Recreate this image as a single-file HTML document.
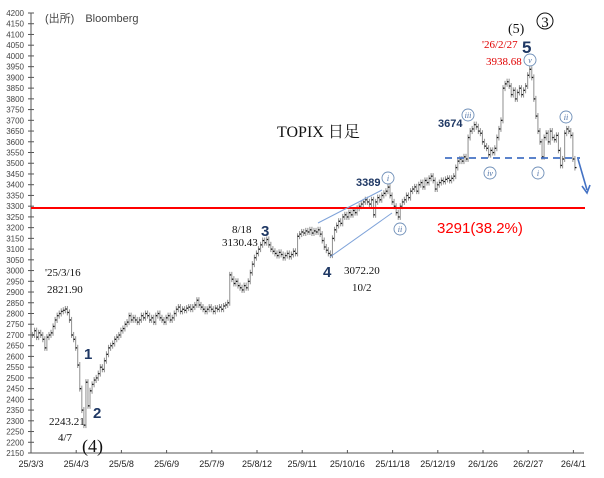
<!DOCTYPE html>
<html><head><meta charset="utf-8">
<style>
html,body{margin:0;padding:0;background:#fff;}
svg{display:block;}
.yl{font:8px "Liberation Sans",sans-serif;fill:#444;}
.xl{font:9px "Liberation Sans",sans-serif;fill:#222;}
.sr{font-family:"Liberation Serif","Noto Serif CJK SC",serif;fill:#111;}
.wv{font:bold 15px "Liberation Sans",sans-serif;fill:#1f3864;}
.cl{fill:none;stroke:#6f8fb8;stroke-width:0.9;}
.ct{font:italic 8px "Liberation Serif",serif;fill:#4a6fa5;}
</style></head>
<body>
<svg id="chart" width="604" height="478" xmlns="http://www.w3.org/2000/svg">
<g id="axes"></g>
<g id="bars"></g>
<g id="ann">
<text x="45" y="22" style="font:11px 'Liberation Sans','Noto Sans CJK JP',sans-serif;fill:#444">(出所)　Bloomberg</text>
<text x="277" y="137" class="sr" style="font-size:16px">TOPIX 日足</text>
<line x1="31" y1="208" x2="585" y2="208" stroke="#ff0000" stroke-width="2"/>
<text x="437" y="233" style="font:15px 'Liberation Sans',sans-serif;fill:#ff0000">3291(38.2%)</text>
<line x1="318" y1="223" x2="382" y2="190" stroke="#7fa3d9" stroke-width="1"/>
<line x1="330" y1="257" x2="392" y2="213" stroke="#7fa3d9" stroke-width="1"/>
<line x1="445" y1="158" x2="580" y2="158" stroke="#4472c4" stroke-width="1.8" stroke-dasharray="7,5"/>
<g>
<line x1="578" y1="159" x2="587" y2="190" stroke="#4472c4" stroke-width="1.6"/>
<polyline points="582,186 587,193 590,185" fill="none" stroke="#4472c4" stroke-width="1.6"/>
</g>
<text x="45" y="276" class="sr" style="font-size:11px">'25/3/16</text>
<text x="47" y="293" class="sr" style="font-size:11px">2821.90</text>
<text x="84" y="359" class="wv">1</text>
<text x="93" y="418" class="wv">2</text>
<text x="49" y="425" class="sr" style="font-size:11px">2243.21</text>
<text x="58" y="441" class="sr" style="font-size:11px">4/7</text>
<text x="82" y="452" class="sr" style="font-size:18px">(4)</text>
<text x="232" y="233" class="sr" style="font-size:11px">8/18</text>
<text x="222" y="246" class="sr" style="font-size:11px">3130.43</text>
<text x="261" y="236" class="wv">3</text>
<text x="323" y="277" class="wv">4</text>
<text x="344" y="274" class="sr" style="font-size:11px">3072.20</text>
<text x="352" y="291" class="sr" style="font-size:11px">10/2</text>
<text x="356" y="186" style="font:bold 11px 'Liberation Sans',sans-serif;fill:#1f3864">3389</text>
<text x="438" y="127" style="font:bold 11px 'Liberation Sans',sans-serif;fill:#1f3864">3674</text>
<text x="482" y="48" class="sr" style="font-size:11px;fill:#e00000">'26/2/27</text>
<text x="486" y="65" class="sr" style="font-size:11px;fill:#e00000">3938.68</text>
<text x="522" y="53" style="font:bold 17px 'Liberation Sans',sans-serif;fill:#1f3864">5</text>
<text x="508" y="33" class="sr" style="font-size:14px">(5)</text>
<g><circle cx="545" cy="21" r="8" fill="none" stroke="#111" stroke-width="1"/><text x="545" y="27" text-anchor="middle" class="sr" style="font-size:15px">3</text></g>
</g>
<g id="circs"></g>
</svg>
<script>
const dataCloses = [
2700,2720,2690,2710,2700,2680,2640,
2690,2700,2710,2740,2770,
2790,2800,2810,2815,2821,2805,
2770,2700,2680,2640,2560,2450,2350,
2280,
2480,2370,2440,2470,2490,2500,2520,2550,2540,2580,
2610,2640,2650,2660,2680,2690,2700,
2720,2730,2750,2760,2790,2770,
2780,2770,2760,2770,2790,2780,2800,2790,2770,2780,2760,2790,2800,2780,2770,2760,2780,2790,2770,2780,
2800,2820,2830,2810,2820,2815,2825,2830,2820,2830,2840,
2862,
2840,2830,2820,2810,2820,2830,2820,2810,2825,2820,2830,2820,2835,2840,2850,
2980,2960,2940,2950,2930,2920,2910,2930,
2920,2950,2990,3030,3060,3080,3100,3120,3140,3130,
3145,
3120,3100,3090,3080,3070,3085,3075,3060,3070,3080,3065,3075,3090,3080,
3160,3170,3180,3175,3185,3180,3190,3175,3185,3180,3190,3170,
3140,3110,3095,3080,3072,
3150,3190,3210,3230,3220,3250,
3260,3250,3270,3260,3280,3270,3290,3300,3310,3320,
3330,3320,3310,3330,3260,3320,3340,
3330,3350,3360,3370,3389,
3350,3320,3300,3270,3250,
3300,3320,3330,3350,3340,3370,
3380,3390,3370,3400,3410,3390,3420,3410,3430,3440,
3420,3380,3400,
3410,3420,3415,3425,3430,3420,3430,3440,
3480,3510,3520,3510,3530,3520,
3620,3650,3660,3680,3670,3650,3640,
3600,3580,3570,3540,3560,3550,3570,
3620,3660,3700,
3850,3870,3880,3860,3820,
3840,3800,3830,3850,3820,3840,3860,
3910,3938,3900,
3800,3720,3650,
3600,3530,3620,
3640,3600,3650,3620,3610,3630,
3560,3490,3520,
3640,3660,3650,3630,
3520,3480
];
const yTicks = [];
for (let v = 2150; v <= 4200; v += 50) yTicks.push(v);
const xTickLabels = ["25/3/3","25/4/3","25/5/8","25/6/9","25/7/9","25/8/12","25/9/11","25/10/16","25/11/18","25/12/19","26/1/26","26/2/27","26/4/1"];
const waveCircles = [["i",388,178],["ii",400,229],["iii",468,115],["iv",490,173],["v",530,60],["i",538,173],["ii",566,117]];

const NS = "http://www.w3.org/2000/svg";
const X0 = 31, X1 = 584, Y_TOP = 13, Y_BOT = 453;
const yScale = v => Y_TOP + (4200 - v) / (4200 - 2150) * (Y_BOT - Y_TOP);
const dayW = 45.2 / 22;
const xScale = d => 32 + d * dayW;
function mk(tag, attrs, parent) { const e = document.createElementNS(NS, tag); for (const k in attrs) e.setAttribute(k, attrs[k]); parent.appendChild(e); return e; }

const axes = document.getElementById('axes');
const ya = mk('line', {x1:X0, y1:Y_TOP, x2:X0, y2:Y_BOT, stroke:'#555', 'stroke-width':1}, axes);


const xa = mk('line', {x1:X0, y1:Y_BOT, x2:X1, y2:Y_BOT, stroke:'#555', 'stroke-width':1}, axes);


yTicks.forEach(v => {
  const y = yScale(v);
  mk('line', {x1:X0-3, y1:y, x2:X0+3, y2:y, stroke:'#555', 'stroke-width':1}, axes);
  const t = mk('text', {x:X0-7, y:y+3, 'text-anchor':'end', class:'yl'}, axes);
  t.textContent = v;
  
  
});
xTickLabels.forEach((lab, i) => {
  const x = X0 + i * 45.2;
  if (i > 0) mk('line', {x1:x, y1:Y_BOT-3, x2:x, y2:Y_BOT, stroke:'#555', 'stroke-width':1}, axes);
  const t = mk('text', {x:x, y:Y_BOT+14, 'text-anchor':'middle', class:'xl'}, axes);
  t.textContent = lab;
  
  
});

const bars = document.getElementById('bars');
dataCloses.forEach((c, i) => {
  const o = i === 0 ? c : dataCloses[i-1];
  const x = xScale(i) + 0.5;
  const hi = Math.max(o, c), lo = Math.min(o, c);
  const l = mk('line', {x1:x, y1:yScale(hi)-3, x2:x, y2:yScale(lo)+3, stroke:'#999', 'stroke-width':1.1}, bars);
  
  
  const tk = mk('rect', {x:x, y:yScale(c)-0.6, width:1.6, height:1.3, fill:'#111'}, bars);
  
  
});

const circs = document.getElementById('circs');
waveCircles.forEach(([lab, cx, cy]) => {
  const g = mk('g', {}, circs);
  
  
  mk('circle', {cx:cx, cy:cy, r:6, fill:'#fff', class:'cl'}, g);
  const t = mk('text', {x:cx, y:cy+3, 'text-anchor':'middle', class:'ct'}, g);
  t.textContent = lab;
});
</script>
</body></html>
